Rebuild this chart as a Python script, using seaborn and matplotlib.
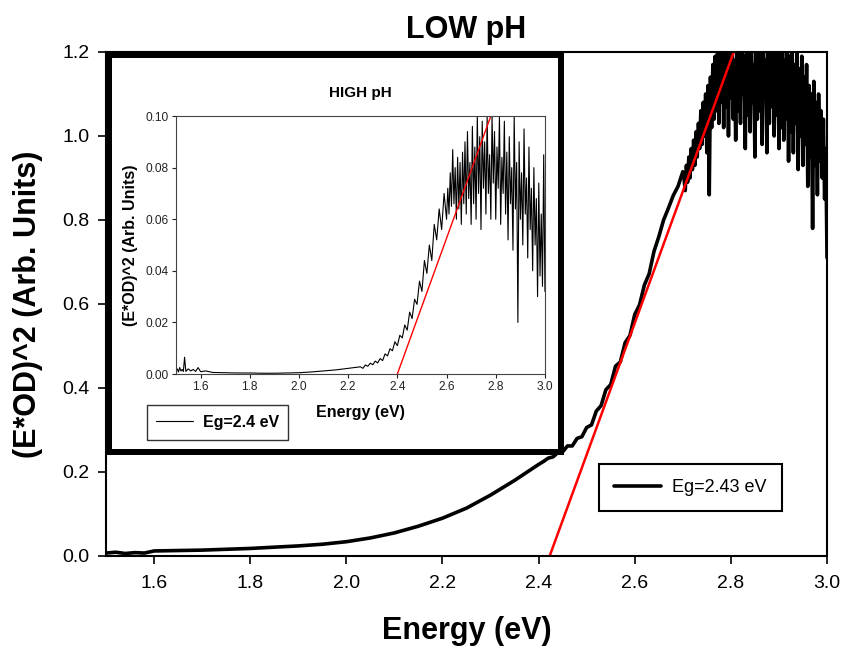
import matplotlib
matplotlib.use('Agg')
import matplotlib.pyplot as plt
import seaborn as sns

# LOW pH spectrum (main panel)
low_energy = [1.50, 1.52, 1.54, 1.56, 1.58, 1.60, 1.65, 1.70, 1.75, 1.80, 1.85, 1.90, 1.95, 2.00, 2.05,
              2.10, 2.15, 2.20, 2.25, 2.30, 2.35, 2.40,
              2.41, 2.42, 2.43, 2.44, 2.45, 2.46, 2.47, 2.48, 2.49, 2.50, 2.51, 2.52, 2.53, 2.54, 2.55,
              2.56, 2.57, 2.58, 2.59, 2.60, 2.61, 2.62, 2.63, 2.64, 2.65, 2.66, 2.67, 2.68, 2.69, 2.70,
              2.7025, 2.7050, 2.7075, 2.7100, 2.7125, 2.7150, 2.7175, 2.7200, 2.7225, 2.7250,
              2.7275, 2.7300, 2.7325, 2.7350, 2.7375, 2.7400, 2.7425, 2.7450, 2.7475, 2.7500,
              2.7525, 2.7550, 2.7575, 2.7600, 2.7625, 2.7650, 2.7675, 2.7700, 2.7725, 2.7750,
              2.7775, 2.7800, 2.7825, 2.7850, 2.7875, 2.7900, 2.7925, 2.7950, 2.7975, 2.8000,
              2.8025, 2.8050, 2.8075, 2.8100, 2.8125, 2.8150, 2.8175, 2.8200, 2.8225, 2.8250,
              2.8275, 2.8300, 2.8325, 2.8350, 2.8375, 2.8400, 2.8425, 2.8450, 2.8475, 2.8500,
              2.8525, 2.8550, 2.8575, 2.8600, 2.8625, 2.8650, 2.8675, 2.8700, 2.8725, 2.8750,
              2.8775, 2.8800, 2.8825, 2.8850, 2.8875, 2.8900, 2.8925, 2.8950, 2.8975, 2.9000,
              2.9025, 2.9050, 2.9075, 2.9100, 2.9125, 2.9150, 2.9175, 2.9200, 2.9225, 2.9250,
              2.9275, 2.9300, 2.9325, 2.9350, 2.9375, 2.9400, 2.9425, 2.9450, 2.9475, 2.9500,
              2.9525, 2.9550, 2.9575, 2.9600, 2.9625, 2.9650, 2.9675, 2.9700, 2.9725, 2.9750,
              2.9775, 2.9800, 2.9825, 2.9850, 2.9875, 2.9900, 2.9925, 2.9950, 2.9975, 3.0000]
low_signal = [0.007, 0.009, 0.006, 0.008, 0.007, 0.012, 0.013, 0.014, 0.016, 0.018, 0.021, 0.024, 0.028, 0.034, 0.043,
              0.055, 0.071, 0.090, 0.114, 0.145, 0.180, 0.218,
              0.225, 0.233, 0.236, 0.246, 0.248, 0.262, 0.262, 0.280, 0.284, 0.306, 0.312, 0.345, 0.358, 0.396, 0.408,
              0.452, 0.462, 0.508, 0.525, 0.575, 0.598, 0.645, 0.672, 0.725, 0.760, 0.800, 0.828, 0.858, 0.880, 0.915,
              0.90, 0.87, 0.93, 0.89, 0.95, 0.90, 0.97, 0.92, 0.99, 0.93,
              1.01, 0.95, 1.03, 0.97, 1.06, 0.98, 1.08, 1.00, 1.10, 0.96,
              1.12, 0.86, 1.14, 1.02, 1.17, 1.04, 1.19, 1.06, 1.22, 1.03,
              1.24, 1.08, 1.22, 1.02, 1.25, 1.07, 1.21, 1.00, 1.25, 1.09,
              1.23, 1.04, 1.18, 0.99, 1.25, 1.06, 1.21, 1.03, 1.25, 1.10,
              1.19, 0.97, 1.24, 1.05, 1.22, 1.01, 1.25, 1.08, 1.17, 0.95,
              1.23, 1.04, 1.25, 1.06, 1.20, 0.98, 1.24, 1.09, 1.18, 0.96,
              1.25, 1.03, 1.22, 1.07, 1.25, 1.00, 1.21, 1.05, 1.24, 0.97,
              1.20, 1.02, 1.25, 0.99, 1.18, 1.04, 1.23, 0.94, 1.19, 1.01,
              1.22, 0.96, 1.17, 1.03, 1.20, 0.92, 1.16, 1.00, 1.19, 0.93,
              1.14, 0.98, 1.17, 0.88, 1.12, 0.95, 1.10, 0.78, 1.13, 0.93,
              1.08, 0.86, 1.10, 0.94, 1.06, 0.90, 1.04, 0.85, 0.97, 0.71]
low_fit_energy = [2.423, 2.806]
low_fit_signal = [0.0, 1.2]

# HIGH pH spectrum (inset)
high_energy = [1.500, 1.505, 1.510, 1.515, 1.520, 1.525, 1.530, 1.535, 1.540, 1.550, 1.560, 1.570, 1.580,
               1.590, 1.600, 1.620, 1.650, 1.700, 1.750, 1.800, 1.850, 1.900, 1.950, 2.000, 2.050, 2.100,
               2.150, 2.200,
               2.25, 2.26, 2.27, 2.28, 2.29, 2.30, 2.31, 2.32, 2.33, 2.34, 2.35, 2.36, 2.37, 2.38, 2.39,
               2.40, 2.41, 2.42, 2.43, 2.44, 2.45, 2.46, 2.47, 2.48, 2.49, 2.50, 2.51, 2.52, 2.53, 2.54,
               2.55, 2.56, 2.57, 2.58, 2.59, 2.60,
               2.605, 2.610, 2.615, 2.620, 2.625, 2.630, 2.635, 2.640, 2.645, 2.650, 2.655, 2.660,
               2.665, 2.670, 2.675, 2.680, 2.685, 2.690, 2.695, 2.700, 2.705, 2.710, 2.715, 2.720,
               2.725, 2.730, 2.735, 2.740, 2.745, 2.750, 2.755, 2.760, 2.765, 2.770, 2.775, 2.780,
               2.785, 2.790, 2.795, 2.800, 2.805, 2.810, 2.815, 2.820, 2.825, 2.830, 2.835, 2.840,
               2.845, 2.850, 2.855, 2.860, 2.865, 2.870, 2.875, 2.880, 2.885, 2.890, 2.895, 2.900,
               2.905, 2.910, 2.915, 2.920, 2.925, 2.930, 2.935, 2.940, 2.945, 2.950, 2.955, 2.960,
               2.965, 2.970, 2.975, 2.980, 2.985, 2.990, 2.995, 3.000]
high_signal = [0.0010, 0.0020, 0.0008, 0.0025, 0.0012, 0.0018, 0.0010, 0.0065, 0.0010, 0.0020, 0.0012, 0.0018, 0.0010,
               0.0025, 0.0009, 0.0012, 0.0006, 0.0005, 0.0004, 0.0004, 0.0003, 0.0003, 0.0004, 0.0005, 0.0008, 0.0012,
               0.0016, 0.0022,
               0.0028, 0.0022, 0.0035, 0.0030, 0.0042, 0.0036, 0.0050, 0.0043, 0.0060, 0.0052, 0.0078, 0.0070, 0.0098,
               0.0090, 0.0125, 0.0110, 0.0150, 0.0140, 0.0190, 0.0170, 0.0240, 0.0215, 0.0290, 0.0270, 0.0360, 0.0320,
               0.0440, 0.0390, 0.0500, 0.0440, 0.0580, 0.0520, 0.0640, 0.0560, 0.0700, 0.0600,
               0.072, 0.062, 0.078, 0.065, 0.087, 0.066, 0.080, 0.060, 0.084, 0.064, 0.082, 0.058,
               0.086, 0.066, 0.090, 0.062, 0.094, 0.068, 0.082, 0.058, 0.096, 0.066, 0.088, 0.060,
               0.100, 0.070, 0.092, 0.056, 0.098, 0.072, 0.090, 0.062, 0.100, 0.070, 0.085, 0.060,
               0.100, 0.074, 0.094, 0.060, 0.088, 0.072, 0.100, 0.058, 0.084, 0.070, 0.098, 0.062,
               0.086, 0.052, 0.092, 0.066, 0.080, 0.048, 0.100, 0.064, 0.082, 0.020, 0.090, 0.060,
               0.078, 0.050, 0.095, 0.062, 0.076, 0.045, 0.088, 0.056, 0.072, 0.040, 0.080, 0.050,
               0.068, 0.030, 0.074, 0.038, 0.062, 0.034, 0.085, 0.032]
high_fit_energy = [2.40, 2.78]
high_fit_signal = [0.0, 0.10]

energy_ticks = [1.6, 1.8, 2.0, 2.2, 2.4, 2.6, 2.8, 3.0]
low_ticks = [0.0, 0.2, 0.4, 0.6, 0.8, 1.0, 1.2]
high_ticks = [0.00, 0.02, 0.04, 0.06, 0.08, 0.10]

sns.set_style('ticks')
plt.rcParams['font.family'] = ['Liberation Sans', 'DejaVu Sans']
plt.rcParams['text.color'] = 'black'
plt.rcParams['axes.labelcolor'] = 'black'
plt.rcParams['xtick.color'] = 'black'
plt.rcParams['ytick.color'] = 'black'
narrow = ['Liberation Sans Narrow', 'Liberation Sans', 'DejaVu Sans']

fig = plt.figure(figsize=(8.42, 6.49), dpi=100)

# main panel
ax = fig.add_axes([0.1259, 0.1433, 0.8563, 0.7766], zorder=1)
sns.lineplot(x=low_energy, y=low_signal, ax=ax, color='black', linewidth=2.6,
             estimator=None, sort=False, label='Eg=2.43 eV')
sns.lineplot(x=low_fit_energy, y=low_fit_signal, ax=ax, color='red', linewidth=1.8,
             estimator=None, sort=False)
ax.set_xlim(1.5, 3.0)
ax.set_ylim(0, 1.2)
ax.set_xticks(energy_ticks, [f'{t:.1f}' for t in energy_ticks])
ax.set_yticks(low_ticks, [f'{t:.1f}' for t in low_ticks])
ax.tick_params(axis='both', direction='out', length=6, width=1.2, labelsize=14, colors='black')
ax.tick_params(axis='x', pad=8)
ax.tick_params(axis='y', pad=6)
for s in ax.spines.values():
    s.set_linewidth(1.5)
    s.set_color('black')
ax.set_title('LOW pH', fontsize=22, fontweight='bold', pad=10, color='black')
ax.set_xlabel('Energy (eV)', fontsize=22, fontweight='bold', labelpad=17)
ax.set_ylabel('(E*OD)^2 (Arb. Units)', fontsize=22, fontweight='bold', labelpad=14)
h, l = ax.get_legend_handles_labels()
leg = ax.legend(h, l, loc='center', bbox_to_anchor=(0.8195, 0.2488), bbox_transform=fig.transFigure,
                prop={'family': narrow, 'size': 13}, frameon=True, fancybox=False,
                edgecolor='black', framealpha=1, handlelength=2.6, handletextpad=0.6,
                borderpad=0.85, labelcolor='black')
leg.get_frame().set_linewidth(1.5)

# thick white box behind the inset
frame = fig.add_axes([0.12886, 0.3043, 0.5374, 0.6109], zorder=2)
frame.set_facecolor('white')
frame.set_xticks([])
frame.set_yticks([])
for s in frame.spines.values():
    s.set_visible(True)
    s.set_linewidth(4.3)
    s.set_color('black')

# inset
ins = fig.add_axes([0.2090, 0.4237, 0.4382, 0.3975], zorder=3)
sns.lineplot(x=high_energy, y=high_signal, ax=ins, color='black', linewidth=0.8,
             estimator=None, sort=False, label='Eg=2.4 eV')
sns.lineplot(x=high_fit_energy, y=high_fit_signal, ax=ins, color='red', linewidth=1.0,
             estimator=None, sort=False)
ins.set_xlim(1.5, 3.0)
ins.set_ylim(0, 0.10)
ins.set_xticks(energy_ticks, [f'{t:.1f}' for t in energy_ticks])
ins.set_yticks(high_ticks, [f'{t:.2f}' for t in high_ticks])
ins.tick_params(axis='both', direction='out', length=3, width=0.8, labelsize=8.6, pad=2, colors='#222222')
for s in ins.spines.values():
    s.set_linewidth(0.8)
    s.set_color('#444444')
ins.set_title('HIGH pH', fontsize=11, fontweight='bold', pad=14, color='black')
ins.set_xlabel('Energy (eV)', fontsize=11.5, fontweight='bold', labelpad=9)
ins.set_ylabel('(E*OD)^2 (Arb. Units)', fontsize=11.5, fontweight='bold', labelpad=6)
h2, l2 = ins.get_legend_handles_labels()
leg2 = ins.legend(h2, l2, loc='center', bbox_to_anchor=(0.2583, 0.349), bbox_transform=fig.transFigure,
                  prop={'weight': 'bold', 'size': 11.5}, frameon=True, fancybox=False,
                  edgecolor='#333333', framealpha=1, handlelength=2.3, handletextpad=0.6,
                  borderpad=0.6, labelcolor='black')
leg2.get_frame().set_linewidth(1.0)

fig.savefig('out.png', dpi=100)
